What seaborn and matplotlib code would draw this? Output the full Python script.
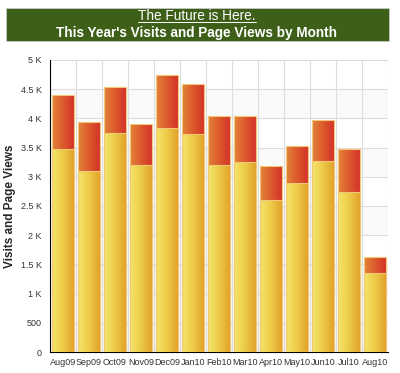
import numpy as np
import pandas as pd
import matplotlib
matplotlib.use("Agg")
import matplotlib.pyplot as plt
import seaborn as sns
from matplotlib.patches import Rectangle
from matplotlib.lines import Line2D
from matplotlib.colors import LinearSegmentedColormap
from matplotlib.ticker import MultipleLocator, FuncFormatter

# data
months = ["Aug09", "Sep09", "Oct09", "Nov09", "Dec09", "Jan10", "Feb10",
          "Mar10", "Apr10", "May10", "Jun10", "Jul10", "Aug10"]
visits = [3470, 3100, 3750, 3200, 3840, 3730, 3200, 3250, 2610, 2900, 3270, 2740, 1360]
page_views = [930, 830, 780, 710, 900, 860, 840, 790, 580, 630, 710, 730, 270]

df = pd.DataFrame({"month": months, "visits": visits, "page_views": page_views})
df["total"] = df["visits"] + df["page_views"]

sns.set_style("white")
plt.rcParams["font.family"] = ["Liberation Sans", "DejaVu Sans"]

fig = plt.figure(figsize=(4, 3.73), dpi=100)
ax = fig.add_axes([0.125, 0.0563, 0.845, 0.783])

# stacked bars: total in red, visits in yellow on top of it
sns.barplot(data=df, x="month", y="total", color="#dc5a2c", width=0.83,
            edgecolor="#f2c878", linewidth=0.8, ax=ax, zorder=3)
n_red = len(ax.patches)
sns.barplot(data=df, x="month", y="visits", color="#eec040", width=0.83,
            edgecolor="#f2c878", linewidth=0.8, ax=ax, zorder=3)

# horizontal gradients inside bars
yellow_cm = LinearSegmentedColormap.from_list("y", ["#f4e66a", "#eccb48", "#e3a22a"])
red_cm = LinearSegmentedColormap.from_list("r", ["#e2843a", "#dc5a2c", "#d5332a"])
grad = np.linspace(0, 1, 64).reshape(1, -1)
for i, p in enumerate(list(ax.patches)):
    cm = red_cm if i < n_red else yellow_cm
    x0, y0 = p.get_x(), p.get_y()
    w, h = p.get_width(), p.get_height()
    im = ax.imshow(grad, cmap=cm, aspect="auto", extent=[x0, x0 + w, y0, y0 + h],
                   zorder=3.5 if i < n_red else 4.5, interpolation="bilinear")
    im.set_clip_path(p)
    p.set_facecolor("none")
    p.set_zorder(3.6 if i < n_red else 4.6)

ax.set_xlim(-0.5, len(months) - 0.5)
ax.set_ylim(0, 5000)

# faint alternating bands and grid
for lo in range(0, 5000, 1000):
    ax.axhspan(lo, lo + 500, color="#fafafa", zorder=0)
for yv in range(500, 5001, 500):
    ax.axhline(yv, color="#dddddd", lw=0.8, zorder=1)
for xv in np.arange(0.5, len(months) - 0.5, 1):
    ax.axvline(xv, color="#dddddd", lw=0.8, zorder=1)
ax.axvline(len(months) - 0.5, color="#dddddd", lw=0.8, zorder=1)

def kfmt(v, pos):
    if v < 1000:
        return "%d" % v
    return ("%g K" % (v / 1000))

ax.yaxis.set_major_locator(MultipleLocator(500))
ax.yaxis.set_minor_locator(MultipleLocator(100))
ax.yaxis.set_major_formatter(FuncFormatter(kfmt))
ax.set_xticks(np.arange(-0.5, len(months), 1), minor=True)
ax.tick_params(axis="y", which="major", direction="in", length=5, width=0.8,
               labelsize=6.5, labelcolor="#333333", pad=6)
ax.tick_params(axis="y", which="minor", direction="in", length=3, width=0.6)
ax.tick_params(axis="x", which="major", length=0, labelsize=6.5,
               labelcolor="#333333", pad=4)
ax.tick_params(axis="x", which="minor", direction="in", length=4, width=0.8)
ax.set_xlabel("")
ax.set_ylabel("Visits and Page Views", fontsize=8.5, fontweight="bold")
ax.yaxis.set_label_coords(-0.10, 0.5)

for s in ["top", "right"]:
    ax.spines[s].set_visible(False)
for s in ["left", "bottom"]:
    ax.spines[s].set_color("black")
    ax.spines[s].set_linewidth(0.8)

# green title box
fig.patches.append(Rectangle((0.015, 0.890), 0.9575, 0.0886, transform=fig.transFigure,
                             facecolor="#3d5f18", edgecolor="#c8c8c8", lw=0.6))
t1 = fig.text(0.4925, 0.957, "The Future is Here.", color="white", fontsize=9.8,
              ha="center", va="center")
fig.text(0.4925, 0.911, "This Year's Visits and Page Views by Month", color="white",
         fontsize=9.8, fontweight="bold", ha="center", va="center")

# underline first title line
fig.canvas.draw()
bb = t1.get_window_extent().transformed(fig.transFigure.inverted())
fig.add_artist(Line2D([bb.x0, bb.x1], [bb.y0 + 0.002, bb.y0 + 0.002],
                      transform=fig.transFigure, color="white", lw=0.7))

fig.savefig("out.png", dpi=100)
